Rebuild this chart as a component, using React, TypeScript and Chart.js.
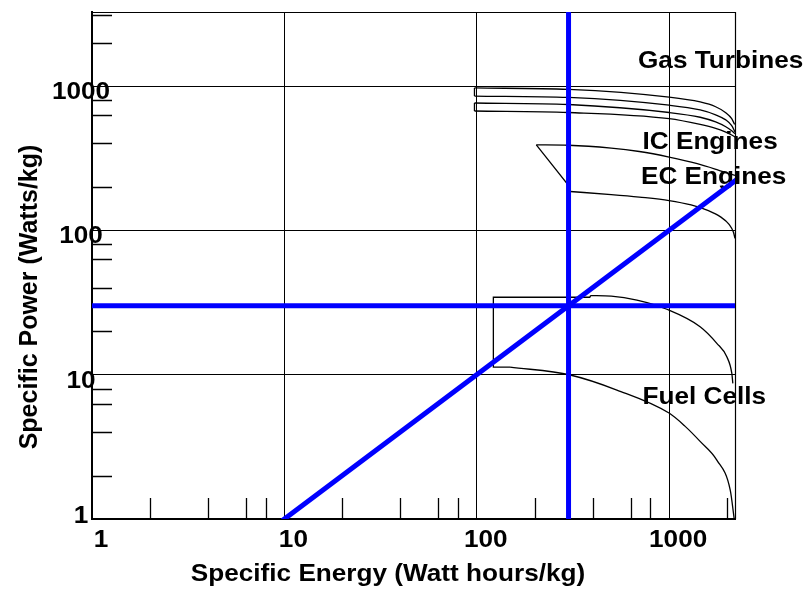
import React, { useEffect, useRef } from 'react';
import { Chart, registerables } from 'chart.js';

Chart.register(...registerables);

// ---- axes ----
const xMin = 1;
const xMax = 2200;
const yMin = 1;
const yMax = 3260;
const majorTicks = [1, 10, 100, 1000];
const majorTickLabels = ['1', '10', '100', '1000'];
const xMinorTicks = [2, 4, 6.3, 8, 20, 40, 63, 80, 200, 400, 630, 800, 2000];
const yMinorTicks = [2, 4, 6.3, 8, 20, 40, 63, 80, 200, 400, 630, 800, 2000, 3100];
const xTitle = 'Specific Energy (Watt hours/kg)';
const yTitle = 'Specific Power (Watts/kg)';
const regionLabels = ['Gas Turbines', 'IC Engines', 'EC Engines', 'Fuel Cells'];

// ---- blue reference lines ----
const refEnergy = 300;
const refPower = 30;
const diagonalLine = [[10, 1], [2200, 220]];

// ---- Gas turbines (two bands, four curves) ----
const gasCurve1 = [[97.3, 970], [300, 948], [1000, 838], [1450, 776], [1745, 719], [1970, 654], [2115, 595], [2190, 542]];
const gasCurve2 = [[97.3, 853], [300, 834], [1000, 737], [1450, 683], [1745, 632], [1970, 583], [2115, 532], [2200, 480]];
const gasCurve3 = [[97.3, 763], [300, 745], [1000, 656], [1450, 608], [1745, 564], [1970, 522], [2115, 490], [2200, 467]];
const gasCurve4 = [[97.3, 672], [300, 656], [1000, 595], [1450, 542], [1745, 509], [1970, 480], [2115, 458], [2200, 444]];
const gasEdge1 = [[97.3, 970], [97.3, 853]];
const gasEdge2 = [[97.3, 763], [97.3, 672]];

// ---- IC / EC engines ----
const icTop = [[204, 391], [300, 389], [500, 372], [700, 352], [1000, 322], [1400, 290], [1800, 262], [2200, 240]];
const icEdge = [[204, 391], [294, 212], [306, 186]];
const ecBottom = [[306, 186], [500, 177], [700, 170], [1000, 161], [1300, 150], [1600, 137], [1850, 124], [2050, 110], [2160, 97], [2200, 88]];

// ---- Fuel cells ----
const fcEdge = [[389, 34.4], [122, 34.4], [122, 11.3], [149, 11.3]];
const fcStep = [[389, 34.4], [389, 35.3]];
const fcTop = [[389, 35.3], [500, 35.0], [680, 32.9], [973, 28.4], [1449, 21.5], [1770, 16.5], [1995, 13.3], [2118, 10.2], [2144, 8.7]];
const fcBottom = [[149, 11.3], [306, 9.95], [535, 7.83], [1004, 5.4], [1208, 4.4], [1449, 3.45], [1770, 2.56], [2077, 1.59], [2180, 1.0]];

const pts = (arr: number[][]) => arr.map(([x, y]) => ({ x, y }));

const FAMILY = '"Liberation Sans", Arial, Helvetica, sans-serif';
const FONT = 'bold 24px ' + FAMILY;
const Y_TITLE_FONT = 'bold 25px ' + FAMILY;
const STRETCH = 1.09;

function drawText(ctx: CanvasRenderingContext2D, text: string, x: number, y: number, align: CanvasTextAlign) {
  ctx.save();
  ctx.translate(x, y);
  ctx.scale(STRETCH, 1);
  ctx.textAlign = align;
  ctx.textBaseline = 'alphabetic';
  ctx.fillText(text, 0, 0);
  ctx.restore();
}

const textPlugin = {
  id: 'texts',
  beforeDraw(chart: any) {
    const { ctx, scales } = chart;
    const xs = scales.x;
    const ys = scales.y;
    ctx.save();
    ctx.fillStyle = '#000';
    ctx.font = FONT;
    majorTicks.forEach((v, i) => {
      const px = xs.getPixelForValue(v);
      drawText(ctx, majorTickLabels[i], px + 9, 547, 'center');
      const py = ys.getPixelForValue(v);
      drawText(ctx, majorTickLabels[i], 81, Math.min(py + 13, 523), 'center');
    });
    drawText(ctx, xTitle, 388, 581, 'center');
    // y title rotated
    ctx.save();
    ctx.font = Y_TITLE_FONT;
    ctx.translate(36.5, 297);
    ctx.rotate(-Math.PI / 2);
    ctx.textAlign = 'center';
    ctx.textBaseline = 'alphabetic';
    ctx.fillText(yTitle, 0, 0);
    ctx.restore();
    // region labels
    drawText(ctx, regionLabels[0], 638, 68, 'left');
    drawText(ctx, regionLabels[1], 642.5, 148.5, 'left');
    drawText(ctx, regionLabels[2], 641, 184, 'left');
    drawText(ctx, regionLabels[3], 642.5, 403.5, 'left');
    ctx.restore();
  },
  beforeDatasetsDraw(chart: any) {
    const { ctx, chartArea, scales } = chart;
    const { left, right, top, bottom } = chartArea;
    ctx.save();
    ctx.strokeStyle = '#000';
    ctx.lineWidth = 1.3;
    ctx.beginPath();
    xMinorTicks.forEach((v) => {
      const px = Math.round(scales.x.getPixelForValue(v)) + 0.5;
      ctx.moveTo(px, bottom);
      ctx.lineTo(px, bottom - 21);
    });
    yMinorTicks.forEach((v) => {
      const py = Math.round(scales.y.getPixelForValue(v)) + 0.5;
      ctx.moveTo(left, py);
      ctx.lineTo(left + 20, py);
    });
    ctx.stroke();
    ctx.lineWidth = 1.2;
    ctx.beginPath();
    ctx.moveTo(left, top + 0.5);
    ctx.lineTo(right + 0.5, top + 0.5);
    ctx.lineTo(right + 0.5, bottom);
    ctx.stroke();
    ctx.restore();
  },
};

export default function App() {
  const ref = useRef<HTMLCanvasElement | null>(null);

  useEffect(() => {
    if (!ref.current) return;
    const blue = (label: string, data: number[][]) => ({
      label,
      data: pts(data),
      borderColor: '#0000ff',
      borderWidth: 5,
      borderCapStyle: 'square',
      pointRadius: 0,
      tension: 0,
      fill: false,
    });
    const curve = (label: string, data: number[][]) => ({
      label,
      data: pts(data),
      borderColor: '#000',
      borderWidth: 1.3,
      pointRadius: 0,
      cubicInterpolationMode: 'monotone',
      fill: false,
    });
    const straight = (label: string, data: number[][]) => ({
      label,
      data: pts(data),
      borderColor: '#000',
      borderWidth: 1.3,
      pointRadius: 0,
      tension: 0,
      fill: false,
    });

    const chart = new Chart(ref.current, {
      type: 'line',
      data: {
        datasets: [
          blue('Reference energy', [[refEnergy, yMin], [refEnergy, yMax]]),
          blue('Reference power', [[xMin, refPower], [xMax, refPower]]),
          blue('Power / energy = 0.1', diagonalLine),
          curve('Gas Turbines 1', gasCurve1),
          curve('Gas Turbines 2', gasCurve2),
          curve('Gas Turbines 3', gasCurve3),
          curve('Gas Turbines 4', gasCurve4),
          straight('Gas Turbines edge 1', gasEdge1),
          straight('Gas Turbines edge 2', gasEdge2),
          curve('IC Engines', icTop),
          straight('Engines edge', icEdge),
          curve('EC Engines', ecBottom),
          straight('Fuel Cells edge', fcEdge),
          straight('Fuel Cells step', fcStep),
          curve('Fuel Cells top', fcTop),
          curve('Fuel Cells bottom', fcBottom),
        ] as any,
      },
      options: {
        animation: false,
        responsive: false,
        devicePixelRatio: 1,
        layout: { padding: { left: 92, top: 12, right: 73, bottom: 70 } },
        plugins: {
          legend: { display: false },
          tooltip: { enabled: false },
          title: { display: false },
        },
        scales: {
          x: {
            type: 'logarithmic',
            position: 'bottom',
            min: xMin,
            max: xMax,
            afterBuildTicks: (s: any) => {
              s.ticks = majorTicks.map((v) => ({ value: v }));
            },
            ticks: { display: false },
            grid: {
              drawTicks: false,
              lineWidth: 1,
              color: (c: any) => (c.tick && c.tick.value === xMin ? 'rgba(0,0,0,0)' : '#000'),
            },
            border: { display: true, color: '#000', width: 2 },
          },
          y: {
            type: 'logarithmic',
            position: 'left',
            min: yMin,
            max: yMax,
            afterBuildTicks: (s: any) => {
              s.ticks = majorTicks.map((v) => ({ value: v }));
            },
            ticks: { display: false },
            grid: {
              drawTicks: false,
              lineWidth: 1,
              color: (c: any) => (c.tick && c.tick.value === yMin ? 'rgba(0,0,0,0)' : '#000'),
            },
            border: { display: true, color: '#000', width: 2 },
          },
        },
      } as any,
      plugins: [textPlugin],
    });
    return () => chart.destroy();
  }, []);

  return (
    <canvas
      ref={ref}
      width={808}
      height={589}
      style={{ position: 'fixed', left: 0, top: 0, width: 808, height: 589 }}
    />
  );
}
